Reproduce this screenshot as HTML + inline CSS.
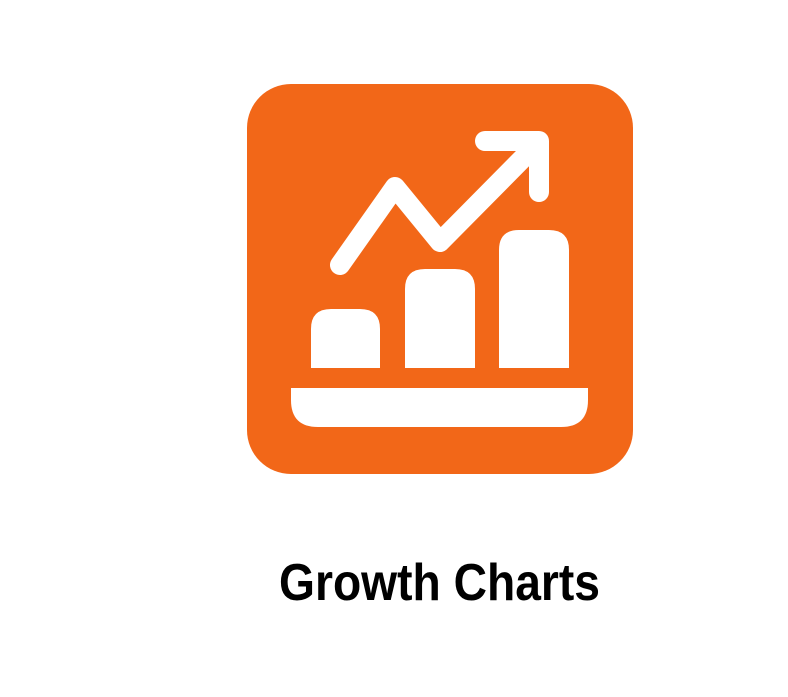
<!DOCTYPE html>
<html><head><meta charset="utf-8"><style>
html,body{margin:0;padding:0;background:#fff;width:788px;height:697px;overflow:hidden}
</style></head><body>
<svg width="788" height="697" viewBox="0 0 788 697">
<rect x="247" y="84" width="386" height="390" rx="44" fill="#f26718"/>
<path d="M311 368 V329 Q311 309 331 309 H360 Q380 309 380 329 V368 Z" fill="#fff"/>
<path d="M405 368 V289 Q405 269 425 269 H455 Q475 269 475 289 V368 Z" fill="#fff"/>
<path d="M499 368 V250 Q499 230 519 230 H549 Q569 230 569 250 V368 Z" fill="#fff"/>
<path d="M291 388 H588 V400 Q588 427 561 427 H318 Q291 427 291 400 Z" fill="#fff"/>
<polyline points="340,265 395,187 440,242 533,148" fill="none" stroke="#fff" stroke-width="20" stroke-linecap="round" stroke-linejoin="round"/>
<polyline points="485,141 539,141 539,192" fill="none" stroke="#fff" stroke-width="20" stroke-linecap="round" stroke-linejoin="round"/>
<text x="279" y="600" font-family="Liberation Sans, sans-serif" font-weight="bold" font-size="52" textLength="321" lengthAdjust="spacingAndGlyphs" fill="#000">Growth Charts</text>
</svg>
</body></html>
